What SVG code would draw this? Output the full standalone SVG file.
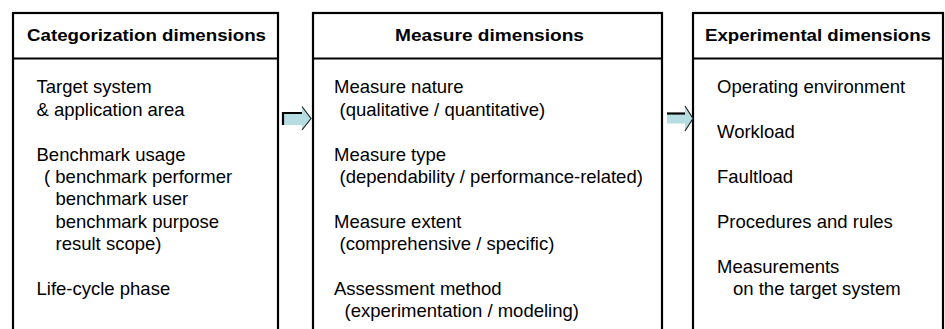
<svg xmlns="http://www.w3.org/2000/svg" width="945" height="329" viewBox="0 0 945 329">
<style>
.box{fill:#fff;stroke:#000;stroke-width:2.2}
.sep{stroke:#000;stroke-width:2.2}
.hd{font-family:"Liberation Sans",Arial,sans-serif;font-weight:bold;font-size:16.5px;fill:#000}
.tx{font-family:"Liberation Sans",Arial,sans-serif;font-size:18.5px;fill:#000}
.afill{fill:#b6dde1;stroke:none}
.aedge{fill:none;stroke:#000;stroke-width:2.2;stroke-linejoin:miter}
.ahead{fill:none;stroke:#222;stroke-width:1.2}
</style>
<rect width="945" height="329" fill="#fff"/>
<g id="categorization">
<rect class="box" x="13" y="13" width="265" height="330"/>
<line class="sep" x1="13" y1="58.5" x2="278" y2="58.5"/>
<text class="hd" x="27" y="41" textLength="239" lengthAdjust="spacingAndGlyphs">Categorization dimensions</text>
<text class="tx" x="36.5" y="93.3">Target system</text>
<text class="tx" x="36.5" y="115.7">&amp; application area</text>
<text class="tx" x="36.5" y="160.5">Benchmark usage</text>
<text class="tx" x="44" y="182.9">( benchmark performer</text>
<text class="tx" x="55.5" y="205.3">benchmark user</text>
<text class="tx" x="55.5" y="227.7">benchmark purpose</text>
<text class="tx" x="55.5" y="250.1">result scope)</text>
<text class="tx" x="36.5" y="294.9">Life-cycle phase</text>
</g>
<g id="measure">
<rect class="box" x="313" y="13" width="349" height="330"/>
<line class="sep" x1="313" y1="58.5" x2="662" y2="58.5"/>
<text class="hd" x="395" y="41" textLength="189" lengthAdjust="spacingAndGlyphs">Measure dimensions</text>
<text class="tx" x="334" y="93.3">Measure nature</text>
<text class="tx" x="339.5" y="115.7">(qualitative / quantitative)</text>
<text class="tx" x="334" y="160.5">Measure type</text>
<text class="tx" x="339.5" y="182.9">(dependability / performance-related)</text>
<text class="tx" x="334" y="227.7">Measure extent</text>
<text class="tx" x="339.5" y="250.1">(comprehensive / specific)</text>
<text class="tx" x="334" y="294.9">Assessment method</text>
<text class="tx" x="344.5" y="317.3">(experimentation / modeling)</text>
</g>
<g id="experimental">
<rect class="box" x="693" y="13" width="250" height="330"/>
<line class="sep" x1="693" y1="58.5" x2="943" y2="58.5"/>
<text class="hd" x="705" y="41" textLength="226" lengthAdjust="spacingAndGlyphs">Experimental dimensions</text>
<text class="tx" x="717" y="93.3">Operating environment</text>
<text class="tx" x="717" y="138.1">Workload</text>
<text class="tx" x="717" y="182.9">Faultload</text>
<text class="tx" x="717" y="227.7">Procedures and rules</text>
<text class="tx" x="717" y="272.5">Measurements</text>
<text class="tx" x="733" y="294.9">on the target system</text>
</g>
<g id="connectors">
<g id="arrow1">
<polygon class="afill" points="282,112.5 302,112.5 302,106.5 311,118.5 302,130 302,125 282,125"/>
<polyline class="aedge" points="283,125 283,113 302,113"/>
<polyline class="ahead" points="302,106.5 311,118.5 302,130"/>
</g>
<g id="arrow2">
<polygon class="afill" points="667,113 685,113 685,106 693,118.5 685,131 685,123.5 667,123.5"/>
<polyline class="aedge" points="667,113.5 685,113.5"/>
<polyline class="ahead" points="685,106 693,118.5 685,131"/>
</g>
</g>
</svg>
